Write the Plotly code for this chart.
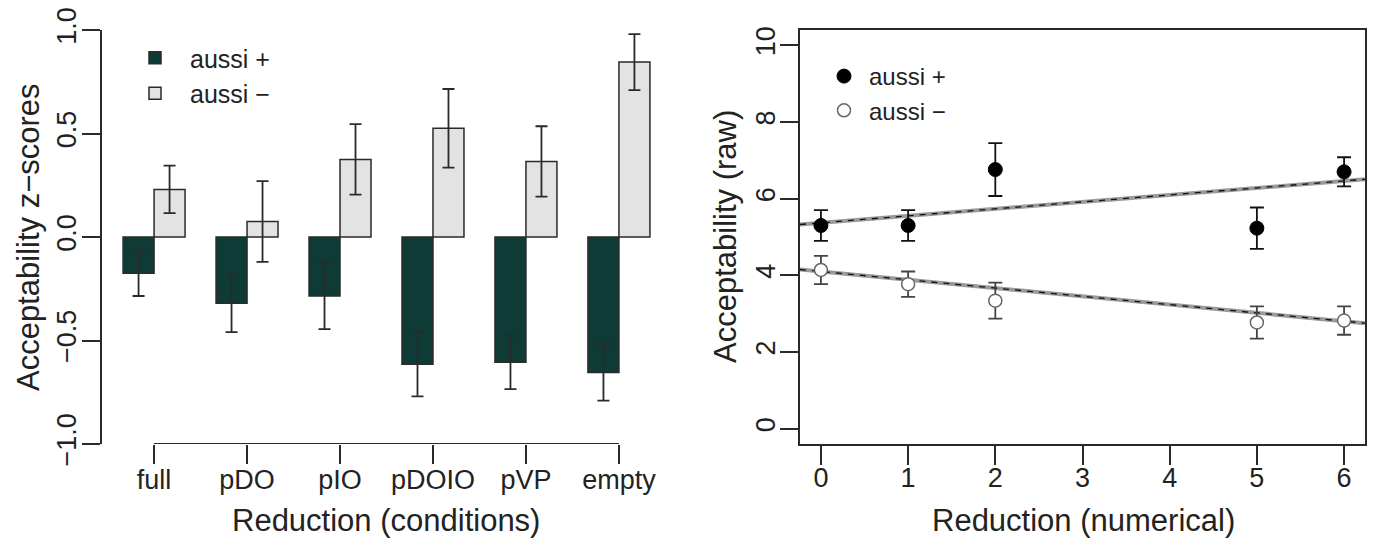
import plotly.graph_objects as go

# ---------------- data ----------------
conditions = ["full", "pDO", "pIO", "pDOIO", "pVP", "empty"]
z_plus = [-0.175, -0.32, -0.285, -0.615, -0.605, -0.655]
z_plus_err = [0.11, 0.14, 0.16, 0.155, 0.13, 0.135]
z_minus = [0.23, 0.075, 0.375, 0.525, 0.365, 0.845]
z_minus_err = [0.115, 0.195, 0.17, 0.19, 0.17, 0.135]

reduction = [0, 1, 2, 5, 6]
raw_plus = [5.30, 5.30, 6.76, 5.23, 6.70]
raw_plus_err = [0.40, 0.40, 0.69, 0.54, 0.38]
raw_minus = [4.14, 3.77, 3.34, 2.77, 2.82]
raw_minus_err = [0.37, 0.33, 0.47, 0.42, 0.37]

# fitted lines (intercept, slope)
fit_plus = (5.37, 0.182)
fit_minus = (4.10, -0.216)

left_yticks = [-1.0, -0.5, 0.0, 0.5, 1.0]
right_xticks = [0, 1, 2, 3, 4, 5, 6]
right_yticks = [0, 2, 4, 6, 8, 10]

# ---------------- style ----------------
FONT = "Liberation Sans, Arial, sans-serif"
TXT = "#222222"
AX = "#2a2a2a"
DARK = "#0e3b36"
LIGHT = "#e3e3e3"

# R barplot geometry: bars of width 1, groups separated by 1
centers = [2 + 3 * i for i in range(len(conditions))]
x_dark = [c - 0.5 for c in centers]
x_light = [c + 0.5 for c in centers]
left_xrange = [0.32, 18.68]
right_xrange = [-0.24, 6.24]

fig = go.Figure()

fig.add_trace(go.Bar(
    x=x_dark, y=z_plus, width=1, name="aussi +",
    marker=dict(color=DARK, line=dict(color=AX, width=1.5)),
    error_y=dict(type="data", array=z_plus_err, color=AX, thickness=1.8, width=6),
    xaxis="x", yaxis="y", legend="legend",
))
fig.add_trace(go.Bar(
    x=x_light, y=z_minus, width=1, name="aussi −",
    marker=dict(color=LIGHT, line=dict(color=AX, width=1.5)),
    error_y=dict(type="data", array=z_minus_err, color=AX, thickness=1.8, width=6),
    xaxis="x", yaxis="y", legend="legend",
))
# R-style x axis line running from first to last tick
fig.add_trace(go.Scatter(
    x=[centers[0], centers[-1]], y=[left_yticks[0], left_yticks[0]],
    mode="lines", line=dict(color=AX, width=2), cliponaxis=False,
    showlegend=False, hoverinfo="skip", xaxis="x", yaxis="y",
))

# regression lines across the plot
for (b0, b1) in (fit_plus, fit_minus):
    xs = right_xrange
    ys = [b0 + b1 * v for v in xs]
    fig.add_trace(go.Scatter(x=xs, y=ys, mode="lines",
                             line=dict(color="#9a9a9a", width=4),
                             showlegend=False, hoverinfo="skip", xaxis="x2", yaxis="y2"))
    fig.add_trace(go.Scatter(x=xs, y=ys, mode="lines",
                             line=dict(color="#111111", width=1.3, dash="6px,6px"),
                             showlegend=False, hoverinfo="skip", xaxis="x2", yaxis="y2"))

fig.add_trace(go.Scatter(
    x=reduction, y=raw_plus, mode="markers", name="aussi +",
    marker=dict(color="#000000", size=14, line=dict(color="#000000", width=1)),
    error_y=dict(type="data", array=raw_plus_err, color="#111111", thickness=1.8, width=7),
    xaxis="x2", yaxis="y2", legend="legend2", cliponaxis=False,
))
fig.add_trace(go.Scatter(
    x=reduction, y=raw_minus, mode="markers", name="aussi −",
    marker=dict(color="#ffffff", size=13, line=dict(color="#666666", width=1.5)),
    error_y=dict(type="data", array=raw_minus_err, color="#444444", thickness=1.8, width=7),
    xaxis="x2", yaxis="y2", legend="legend2", cliponaxis=False,
))

ydom = [1 - 444 / 540, 1 - 30 / 540]
axfont = dict(family=FONT, size=27, color=TXT)

fig.update_layout(
    width=1376, height=540,
    margin=dict(l=0, r=0, t=0, b=0, autoexpand=False),
    paper_bgcolor="white", plot_bgcolor="white",
    font=dict(family=FONT, color=TXT),
    barmode="overlay",
    xaxis=dict(domain=[102 / 1376, 671 / 1376], range=left_xrange,
               tickvals=centers, ticktext=conditions, showline=False,
               ticks="outside", ticklen=19, tickwidth=1.5, tickcolor=AX,
               ticklabelstandoff=-7,
               showgrid=False, zeroline=False, tickfont=axfont, anchor="y",
               automargin=False),
    yaxis=dict(domain=ydom, range=[left_yticks[0], left_yticks[-1]],
               tickvals=left_yticks, tickformat=".1f", tickangle=-90,
               showline=True, linecolor=AX, linewidth=1.5,
               ticks="outside", ticklen=18, tickwidth=1.5, tickcolor=AX,
               ticklabelstandoff=-5,
               showgrid=False, zeroline=False, tickfont=axfont, anchor="x",
               automargin=False),
    xaxis2=dict(domain=[800 / 1376, 1365 / 1376], range=right_xrange,
                tickvals=right_xticks, showline=True, mirror=True,
                linecolor=AX, linewidth=1.5,
                ticks="outside", ticklen=19, tickwidth=1.5, tickcolor=AX,
                ticklabelstandoff=-10,
                showgrid=False, zeroline=False, tickfont=axfont, anchor="y2",
                automargin=False),
    yaxis2=dict(domain=ydom, range=[-0.4, 10.4],
                tickvals=right_yticks, tickangle=-90, showline=True, mirror=True,
                linecolor=AX, linewidth=1.5,
                ticks="outside", ticklen=18, tickwidth=1.5, tickcolor=AX,
                ticklabelstandoff=-6,
                showgrid=False, zeroline=False, tickfont=axfont, anchor="x2",
                automargin=False),
    legend=dict(x=120 / 1376, y=1 - 35 / 540, xanchor="left", yanchor="top",
                bgcolor="rgba(0,0,0,0)", font=dict(family=FONT, size=25, color=TXT),
                itemwidth=60, tracegroupgap=0),
    legend2=dict(x=819 / 1376, y=1 - 54 / 540, xanchor="left", yanchor="top",
                 bgcolor="rgba(0,0,0,0)", font=dict(family=FONT, size=24, color=TXT),
                 itemwidth=40, tracegroupgap=0),
    annotations=[
        dict(text="Acceptability z−scores", x=28 / 1376, y=1 - 237 / 540,
             xref="paper", yref="paper", textangle=-90, showarrow=False,
             xanchor="center", yanchor="middle", font=dict(family=FONT, size=31, color=TXT)),
        dict(text="Reduction (conditions)", x=386 / 1376, y=1 - 520 / 540,
             xref="paper", yref="paper", showarrow=False,
             xanchor="center", yanchor="middle", font=dict(family=FONT, size=31, color=TXT)),
        dict(text="Acceptability (raw)", x=725 / 1376, y=1 - 237 / 540,
             xref="paper", yref="paper", textangle=-90, showarrow=False,
             xanchor="center", yanchor="middle", font=dict(family=FONT, size=31, color=TXT)),
        dict(text="Reduction (numerical)", x=1083 / 1376, y=1 - 520 / 540,
             xref="paper", yref="paper", showarrow=False,
             xanchor="center", yanchor="middle", font=dict(family=FONT, size=31, color=TXT)),
    ],
)

fig.write_html("out.html", config={"displayModeBar": False},
               post_script="document.body.style.margin='0';")
